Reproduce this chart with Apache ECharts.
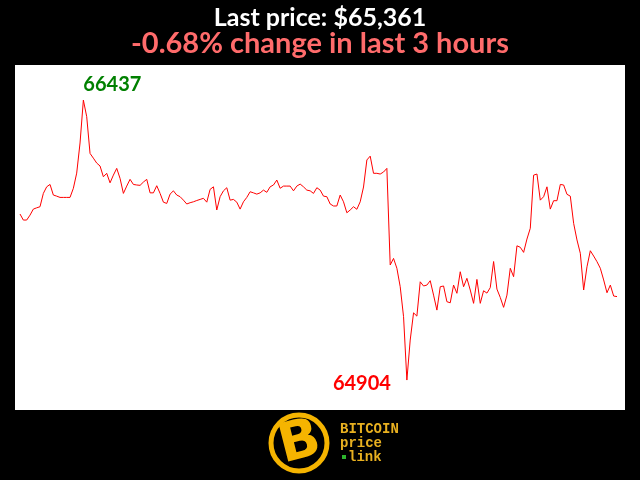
<!DOCTYPE html>
<html>
<head>
<meta charset="utf-8">
<script src="https://cdn.jsdelivr.net/npm/echarts@6/dist/echarts.min.js"></script>
<style>
html,body{margin:0;padding:0;background:#000;}
#chart{width:640px;height:480px;}
</style>
</head>
<body>
<div id="chart"></div>
<script>
// Price samples over the last 3 hours (1-minute steps)
const minutes = [];
for (let i = 0; i < 180; i++) minutes.push(String(i));

const prices = [
65813,65780,65780,65807,65840,65847,65853,65926,65962,65975,
65917,65911,65904,65904,65904,65904,65954,66037,66202,66437,
66346,66145,66119,66092,66076,66017,66036,65984,66026,66063,
66008,65926,65966,66003,65975,65972,65970,65988,66003,65929,
65929,65968,65926,65878,65871,65922,65940,65917,65908,65889,
65868,65875,65880,65887,65893,65899,65878,65948,65962,65835,
65908,65940,65957,65889,65893,65878,65840,65880,65904,65935,
65929,65922,65929,65944,65932,65962,65972,65999,65954,65966,
65966,65966,65940,65966,65977,65962,65944,65940,65926,65957,
65944,65911,65908,65868,65857,65857,65917,65880,65820,65835,
65853,65839,65880,65961,66109,66130,66036,66036,66032,66043,
66063,65534,65570,65516,65415,65251,64904,65123,65272,65254,
65442,65419,65424,65448,65369,65287,65415,65419,65333,65327,
65424,65379,65497,65415,65461,65397,65324,65455,65324,65393,
65380,65410,65553,65402,65356,65302,65369,65516,65470,65639,
65631,65603,65676,65735,66026,66032,65889,65908,65962,65840,
65886,65886,65975,65972,65921,65911,65762,65671,65598,65397,
65524,65612,65583,65552,65516,65452,65382,65424,65364,65361
];

const titleText = 'Last price: $65,361';
const subText = '-0.68% change in last 3 hours';
const logoLines = ['BITCOIN', 'price', 'link'];

const chart = echarts.init(document.getElementById('chart'), null, {renderer: 'canvas'});
chart.setOption({
  backgroundColor: '#000000',
  animation: false,
  title: [
    {text: titleText, left: 'center', top: 0,
     textStyle: {color: '#ffffff', fontFamily: 'Lato', fontWeight: 'bold', fontSize: 25}},
    {text: subText, left: 'center', top: 24,
     textStyle: {color: '#ff6b6b', fontFamily: 'Lato', fontWeight: 'bold', fontSize: 29}}
  ],
  grid: {left: 20, right: 23, top: 65, bottom: 70},
  xAxis: {type: 'category', data: minutes, boundaryGap: false, show: false},
  yAxis: {type: 'value', min: 64740, max: 66629, show: false},
  graphic: [
    {type: 'rect', z: -10, shape: {x: 15, y: 65, width: 610, height: 345}, style: {fill: '#ffffff'}},
    {type: 'circle', shape: {cx: 299, cy: 443, r: 28}, style: {fill: '#000', stroke: '#f5b400', lineWidth: 5}},
    {type: 'text', x: 300, y: 444, rotation: 0.25,
     style: {text: 'B', fill: '#f5b400', font: 'bold 54px "DejaVu Sans"', align: 'center', verticalAlign: 'middle'}},
    {type: 'text', x: 340, y: 429, style: {text: logoLines[0], fill: '#e8b020', font: 'bold 14px "Liberation Mono"', verticalAlign: 'middle'}},
    {type: 'text', x: 340, y: 443, style: {text: logoLines[1], fill: '#e8b020', font: 'bold 14px "Liberation Mono"', verticalAlign: 'middle'}},
    {type: 'rect', shape: {x: 342, y: 455, width: 4, height: 4}, style: {fill: '#2db52d'}},
    {type: 'text', x: 348, y: 457, style: {text: logoLines[2], fill: '#e8b020', font: 'bold 14px "Liberation Mono"', verticalAlign: 'middle'}}
  ],
  series: [{
    type: 'line',
    data: prices,
    showSymbol: false,
    symbol: 'none',
    lineStyle: {color: '#ff0000', width: 1},
    markPoint: {
      symbol: 'rect',
      symbolSize: 1,
      itemStyle: {color: 'rgba(0,0,0,0)'},
      data: [
        {type: 'max', label: {show: true, position: 'inside', offset: [29, -16], formatter: '{c}',
          color: '#008000', fontFamily: 'Lato', fontWeight: 'bold', fontSize: 20}},
        {type: 'min', label: {show: true, position: 'inside', offset: [-45, 3], formatter: '{c}',
          color: '#ff0000', fontFamily: 'Lato', fontWeight: 'bold', fontSize: 20}}
      ]
    }
  }]
});
</script>
</body>
</html>
